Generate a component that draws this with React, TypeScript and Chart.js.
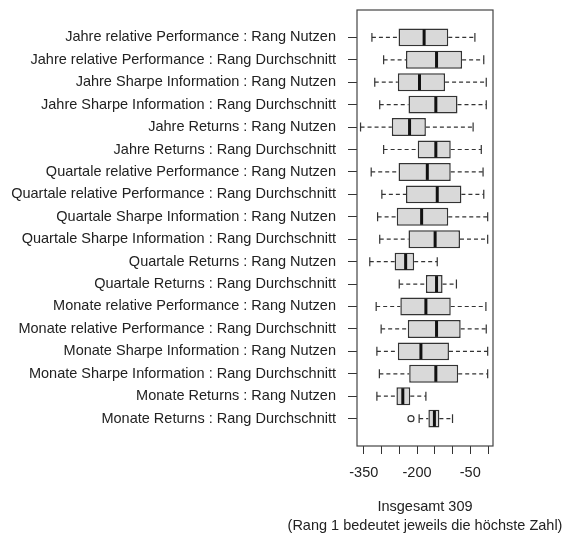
import { useEffect, useRef } from 'react';
import { Chart, registerables } from 'chart.js';

Chart.register(...registerables);

const FONT = '"Liberation Sans", Arial, Helvetica, sans-serif';
const FONT_SIZE = 14.5;

const categories = [
  'Jahre relative Performance : Rang Nutzen',
  'Jahre relative Performance : Rang Durchschnitt',
  'Jahre Sharpe Information : Rang Nutzen',
  'Jahre Sharpe Information : Rang Durchschnitt',
  'Jahre Returns : Rang Nutzen',
  'Jahre Returns : Rang Durchschnitt',
  'Quartale relative Performance : Rang Nutzen',
  'Quartale relative Performance : Rang Durchschnitt',
  'Quartale Sharpe Information : Rang Nutzen',
  'Quartale Sharpe Information : Rang Durchschnitt',
  'Quartale Returns : Rang Nutzen',
  'Quartale Returns : Rang Durchschnitt',
  'Monate relative Performance : Rang Nutzen',
  'Monate relative Performance : Rang Durchschnitt',
  'Monate Sharpe Information : Rang Nutzen',
  'Monate Sharpe Information : Rang Durchschnitt',
  'Monate Returns : Rang Nutzen',
  'Monate Returns : Rang Durchschnitt',
];

const whiskerLow = [-327, -294, -319, -305, -359, -294, -329, -299, -311, -305, -333, -250, -315, -301, -313, -306, -313, -194];
const q1 = [-252, -231, -254, -224, -271, -198, -252, -231, -257, -224, -263, -175, -247, -226, -254, -222, -258, -168];
const median = [-180, -145, -193, -147, -221, -147, -171, -143, -187, -149, -232, -145, -175, -145, -189, -147, -240, -151];
const q3 = [-112, -73, -121, -86, -175, -105, -105, -75, -112, -79, -208, -128, -105, -77, -110, -84, -219, -137];
const whiskerHigh = [-37, -12, -5, -5, -42, -19, -14, -12, -1, -1, -143, -89, -6, -5, -1, -1, -175, -100];

const outlierRows = [17];
const outlierValues = [-217];

const xTickValues = [-350, -300, -250, -200, -150, -100, -50, 0];
const xTickLabels = ['-350', '', '', '-200', '', '', '-50', ''];

const titleLines = ['Insgesamt 309', '(Rang 1 bedeutet jeweils die höchste Zahl)'];

const boxplotExtras = {
  id: 'boxplotExtras',
  afterDatasetsDraw(chart: any) {
    const { ctx, chartArea, scales } = chart;
    const x = scales.x;
    const y = scales.y;
    const unit = Math.abs(y.getPixelForValue(1) - y.getPixelForValue(0));
    const boxHalf = unit * 0.4;
    const capHalf = boxHalf * 0.5;
    ctx.save();
    for (let i = 0; i < categories.length; i++) {
      const yc = y.getPixelForValue(i);
      const xl = x.getPixelForValue(whiskerLow[i]);
      const x1 = x.getPixelForValue(q1[i]);
      const xm = x.getPixelForValue(median[i]);
      const x3 = x.getPixelForValue(q3[i]);
      const xh = x.getPixelForValue(whiskerHigh[i]);
      ctx.strokeStyle = '#333';
      ctx.lineWidth = 1.2;
      ctx.setLineDash([4, 3]);
      ctx.beginPath();
      ctx.moveTo(xl, yc);
      ctx.lineTo(x1, yc);
      ctx.moveTo(x3, yc);
      ctx.lineTo(xh, yc);
      ctx.stroke();
      ctx.setLineDash([]);
      ctx.beginPath();
      ctx.moveTo(xl, yc - capHalf);
      ctx.lineTo(xl, yc + capHalf);
      ctx.moveTo(xh, yc - capHalf);
      ctx.lineTo(xh, yc + capHalf);
      ctx.stroke();
      ctx.strokeStyle = '#111';
      ctx.lineWidth = 3;
      ctx.beginPath();
      ctx.moveTo(xm, yc - boxHalf + 1);
      ctx.lineTo(xm, yc + boxHalf - 1);
      ctx.stroke();
    }
    ctx.strokeStyle = '#333';
    ctx.lineWidth = 1.2;
    for (let k = 0; k < outlierRows.length; k++) {
      const px = x.getPixelForValue(outlierValues[k]);
      const py = y.getPixelForValue(outlierRows[k]);
      ctx.beginPath();
      ctx.arc(px, py, 3, 0, Math.PI * 2);
      ctx.stroke();
    }
    ctx.strokeStyle = '#444';
    ctx.lineWidth = 1.2;
    ctx.strokeRect(chartArea.left, chartArea.top, chartArea.right - chartArea.left, chartArea.bottom - chartArea.top);
    ctx.fillStyle = '#222';
    ctx.font = `${FONT_SIZE}px ${FONT}`;
    ctx.textAlign = 'center';
    ctx.textBaseline = 'alphabetic';
    const cx = (chartArea.left + chartArea.right) / 2;
    ctx.fillText(titleLines[0], cx, chartArea.bottom + 65);
    ctx.fillText(titleLines[1], cx, chartArea.bottom + 84);
    ctx.restore();
  },
};

export default function App() {
  const canvasRef = useRef<HTMLCanvasElement | null>(null);

  useEffect(() => {
    const canvas = canvasRef.current;
    if (!canvas) return;
    const chart = new Chart(canvas, {
      type: 'bar',
      data: {
        datasets: [
          {
            data: categories.map((_, i) => ({ x: [q1[i], q3[i]], y: i })) as any,
            backgroundColor: '#d9d9d9',
            borderColor: '#333',
            borderWidth: 1.5,
            borderSkipped: false,
            categoryPercentage: 1,
            barPercentage: 0.8,
          },
        ],
      },
      options: {
        indexAxis: 'y',
        responsive: false,
        animation: false,
        layout: { padding: { top: 10, right: 69, left: 0, bottom: 0 } },
        plugins: { legend: { display: false }, tooltip: { enabled: false }, title: { display: false } },
        scales: {
          y: {
            type: 'linear',
            reverse: true,
            offset: false,
            min: -1.22,
            max: 18.22,
            afterBuildTicks: (axis: any) => {
              axis.ticks = categories.map((_, i) => ({ value: i }));
            },
            afterFit: (scale: any) => {
              scale.width = 357;
              scale.paddingTop = 0;
              scale.paddingBottom = 0;
            },
            grid: { offset: false, drawOnChartArea: false, drawTicks: true, tickLength: 9, color: '#333' },
            border: { display: false },
            ticks: {
              autoSkip: false,
              padding: 12,
              color: '#222',
              font: { family: FONT, size: FONT_SIZE },
              callback: (v: any) => categories[v as number] ?? '',
            },
          },
          x: {
            type: 'linear',
            offset: false,
            min: -369,
            max: 14,
            afterBuildTicks: (axis: any) => {
              axis.ticks = xTickValues.map((v) => ({ value: v }));
            },
            afterFit: (scale: any) => {
              scale.height = 88;
              scale.paddingLeft = 0;
              scale.paddingRight = 0;
            },
            grid: { offset: false, drawOnChartArea: false, drawTicks: true, tickLength: 8, color: '#333' },
            border: { display: false },
            ticks: {
              autoSkip: false,
              maxRotation: 0,
              padding: 10,
              color: '#222',
              font: { family: FONT, size: FONT_SIZE },
              callback: (v: any) => {
                const idx = xTickValues.indexOf(v as number);
                return idx >= 0 ? xTickLabels[idx] : '';
              },
            },
          },
        },
      },
      plugins: [boxplotExtras],
    });
    return () => chart.destroy();
  }, []);

  return (
    <div style={{ position: 'absolute', left: 0, top: 0, width: 562, height: 534, background: '#fff' }}>
      <canvas ref={canvasRef} width={562} height={534} style={{ display: 'block' }} />
    </div>
  );
}
